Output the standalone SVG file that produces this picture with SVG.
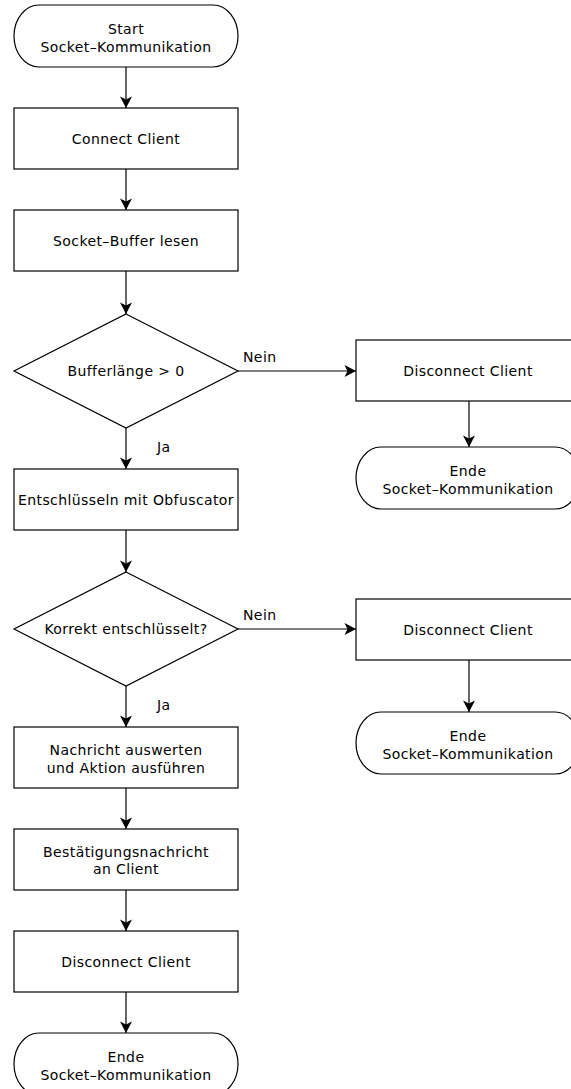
<svg xmlns="http://www.w3.org/2000/svg" width="571" height="1089" viewBox="0 0 571 1089">
  <style>
    .shape { fill: #ffffff; stroke: #000000; stroke-width: 1.2; }
    .label { font-family: "DejaVu Sans", "Liberation Sans", sans-serif; font-size: 14px; letter-spacing: 0.4px; fill: #000000; text-anchor: middle; }
    .edge-label { font-family: "DejaVu Sans", "Liberation Sans", sans-serif; font-size: 14px; letter-spacing: 0.4px; fill: #000000; }
    .edge { fill: none; stroke: #000000; stroke-width: 1.2; marker-end: url(#arrow); }
  </style>
  <defs>
    <!-- notched arrowhead, tip at the end of the line -->
    <marker id="arrow" markerUnits="userSpaceOnUse" markerWidth="14" markerHeight="14" viewBox="0 0 14 14" refX="12" refY="7" orient="auto">
      <path d="M0.5,1 L12,7 L0.5,13 L3.5,7 Z" fill="#000000"/>
    </marker>
  </defs>
  <rect width="571" height="1089" fill="#ffffff"/>

  <!-- connectors -->
  <g id="connectors">
    <line class="edge" x1="126" y1="67" x2="126" y2="108"/>
    <line class="edge" x1="126" y1="169" x2="126" y2="210"/>
    <line class="edge" x1="126" y1="271" x2="126" y2="314"/>
    <line class="edge" x1="238" y1="371" x2="356" y2="371"/>
    <text class="edge-label" x="243" y="362">Nein</text>
    <line class="edge" x1="469" y1="401" x2="469" y2="447"/>
    <line class="edge" x1="126" y1="428" x2="126" y2="469"/>
    <text class="edge-label" x="157" y="452">Ja</text>
    <line class="edge" x1="126" y1="530" x2="126" y2="572"/>
    <line class="edge" x1="238" y1="629" x2="356" y2="629"/>
    <text class="edge-label" x="243" y="620">Nein</text>
    <line class="edge" x1="469" y1="660" x2="469" y2="712"/>
    <line class="edge" x1="126" y1="686" x2="126" y2="727"/>
    <text class="edge-label" x="157" y="710">Ja</text>
    <line class="edge" x1="126" y1="788" x2="126" y2="829"/>
    <line class="edge" x1="126" y1="890" x2="126" y2="931"/>
    <line class="edge" x1="126" y1="992" x2="126" y2="1033"/>
  </g>

  <!-- main column -->
  <g id="start">
    <rect class="shape" x="14" y="5" width="224" height="62" rx="25" ry="31"/>
    <text class="label" x="126" y="33.5">Start</text>
    <text class="label" x="126" y="52">Socket–Kommunikation</text>
  </g>
  <g id="connect-client">
    <rect class="shape" x="14" y="108" width="224" height="61"/>
    <text class="label" x="126" y="143.5">Connect Client</text>
  </g>
  <g id="read-buffer">
    <rect class="shape" x="14" y="210" width="224" height="61"/>
    <text class="label" x="126" y="245.5">Socket–Buffer lesen</text>
  </g>
  <g id="check-length">
    <polygon class="shape" points="126,314 238,371 126,428 14,371"/>
    <text class="label" x="126" y="376">Bufferlänge &gt; 0</text>
  </g>
  <g id="decrypt">
    <rect class="shape" x="14" y="469" width="224" height="61"/>
    <text class="label" x="126" y="504.5">Entschlüsseln mit Obfuscator</text>
  </g>
  <g id="check-decrypt">
    <polygon class="shape" points="126,572 238,629 126,686 14,629"/>
    <text class="label" x="126" y="634">Korrekt entschlüsselt?</text>
  </g>
  <g id="evaluate">
    <rect class="shape" x="14" y="727" width="224" height="61"/>
    <text class="label" x="126" y="754.5">Nachricht auswerten</text>
    <text class="label" x="126" y="773">und Aktion ausführen</text>
  </g>
  <g id="confirm">
    <rect class="shape" x="14" y="829" width="224" height="61"/>
    <text class="label" x="126" y="856.5">Bestätigungsnachricht</text>
    <text class="label" x="126" y="874">an Client</text>
  </g>
  <g id="disconnect-main">
    <rect class="shape" x="14" y="931" width="224" height="61"/>
    <text class="label" x="126" y="966.5">Disconnect Client</text>
  </g>
  <g id="end-main">
    <rect class="shape" x="14" y="1033" width="224" height="62" rx="25" ry="31"/>
    <text class="label" x="126" y="1061.5">Ende</text>
    <text class="label" x="126" y="1080">Socket–Kommunikation</text>
  </g>

  <!-- right branch: empty buffer -->
  <g id="disconnect-empty">
    <rect class="shape" x="356" y="340" width="224" height="61"/>
    <text class="label" x="468" y="375.5">Disconnect Client</text>
  </g>
  <g id="end-empty">
    <rect class="shape" x="356" y="447" width="224" height="62" rx="25" ry="31"/>
    <text class="label" x="468" y="475.5">Ende</text>
    <text class="label" x="468" y="494">Socket–Kommunikation</text>
  </g>

  <!-- right branch: decryption failed -->
  <g id="disconnect-invalid">
    <rect class="shape" x="356" y="599" width="224" height="61"/>
    <text class="label" x="468" y="634.5">Disconnect Client</text>
  </g>
  <g id="end-invalid">
    <rect class="shape" x="356" y="712" width="224" height="62" rx="25" ry="31"/>
    <text class="label" x="468" y="740.5">Ende</text>
    <text class="label" x="468" y="759">Socket–Kommunikation</text>
  </g>
</svg>
